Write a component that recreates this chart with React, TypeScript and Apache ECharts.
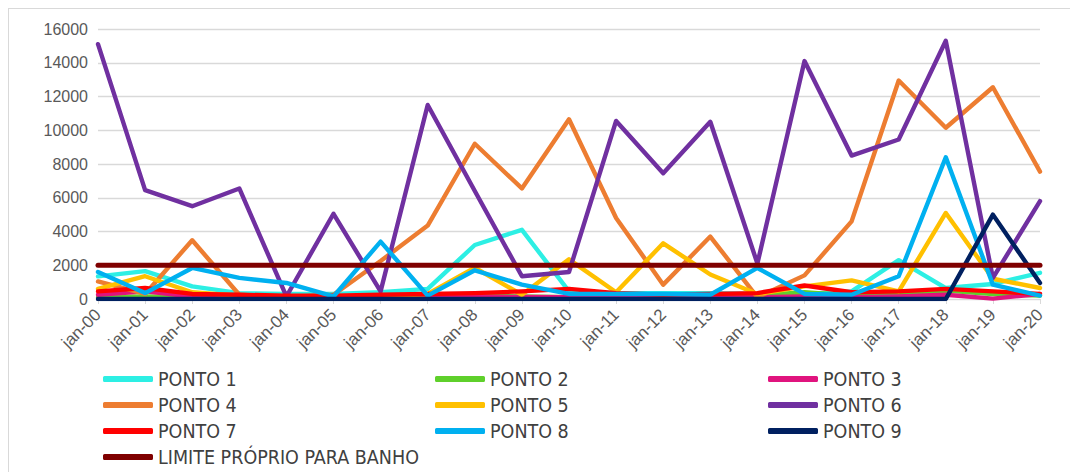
import React, { useEffect, useRef } from "react";
import * as echarts from "echarts";

const categories = [
  "jan-00", "jan-01", "jan-02", "jan-03", "jan-04", "jan-05", "jan-06", "jan-07",
  "jan-08", "jan-09", "jan-10", "jan-11", "jan-12", "jan-13", "jan-14", "jan-15",
  "jan-16", "jan-17", "jan-18", "jan-19", "jan-20",
];

const ponto1 = [1340, 1650, 750, 350, 300, 300, 400, 600, 3200, 4100, 450, 350, 350, 350, 300, 300, 450, 2300, 650, 890, 1550];
const ponto2 = [100, 150, 100, 50, 50, 100, 150, 100, 200, 150, 100, 100, 150, 100, 200, 400, 200, 250, 500, 300, 200];
const ponto3 = [250, 450, 150, 100, 50, 80, 100, 100, 150, 120, 100, 80, 60, 80, 100, 150, 100, 150, 250, 20, 300];
const ponto4 = [1040, 300, 3480, 250, 100, 250, 2250, 4350, 9200, 6550, 10650, 4800, 850, 3700, 100, 1400, 4600, 12950, 10150, 12550, 7550];
const ponto5 = [600, 1350, 400, 200, 100, 100, 150, 300, 1850, 250, 2350, 400, 3300, 1450, 300, 750, 1100, 450, 5100, 1200, 650];
const ponto6 = [15100, 6450, 5500, 6550, 150, 5050, 450, 11500, 6400, 1350, 1600, 10550, 7450, 10500, 2100, 14100, 8500, 9450, 15300, 1250, 5800];
const ponto7 = [450, 650, 300, 250, 200, 200, 250, 300, 350, 450, 600, 350, 250, 300, 350, 800, 400, 450, 600, 450, 300];
const ponto8 = [1600, 350, 1840, 1250, 950, 150, 3400, 200, 1700, 850, 300, 300, 300, 250, 1840, 300, 250, 1350, 8400, 850, 200];
const ponto9 = [0, 0, 0, 0, 0, 0, 0, 0, 0, 0, 0, 0, 0, 0, 0, 0, 0, 0, 0, 5000, 950];
const limite = [2000, 2000, 2000, 2000, 2000, 2000, 2000, 2000, 2000, 2000, 2000, 2000, 2000, 2000, 2000, 2000, 2000, 2000, 2000, 2000, 2000];

const seriesNames = [
  "PONTO 1", "PONTO 2", "PONTO 3", "PONTO 4", "PONTO 5", "PONTO 6",
  "PONTO 7", "PONTO 8", "PONTO 9", "LIMITE PRÓPRIO PARA BANHO",
];
const seriesData = [ponto1, ponto2, ponto3, ponto4, ponto5, ponto6, ponto7, ponto8, ponto9, limite];
const seriesColors = [
  "#2DEFE4", "#5FD02B", "#E0147E", "#ED7D31", "#FFC000", "#7030A0",
  "#FF0000", "#00B0F0", "#002060", "#7F0000",
];

const legendCols = [
  ["PONTO 1", "PONTO 4", "PONTO 7", "LIMITE PRÓPRIO PARA BANHO"],
  ["PONTO 2", "PONTO 5", "PONTO 8"],
  ["PONTO 3", "PONTO 6", "PONTO 9"],
];
const legendLefts = [94, 426, 759];

const yTicks = { min: 0, max: 16000, interval: 2000 };

const FONT = "'Liberation Sans Narrow', 'Arial Narrow', 'DejaVu Sans Condensed', 'Liberation Sans', sans-serif";

export default function App() {
  const ref = useRef<HTMLDivElement>(null);

  useEffect(() => {
    if (!ref.current) return;
    const chart = echarts.init(ref.current, undefined, { renderer: "svg" });
    const option: any = {
      animation: false,
      backgroundColor: "#ffffff",
      grid: { left: 89, right: 38, top: 20, bottom: 223, containLabel: false },
      xAxis: {
        type: "category",
        data: categories,
        boundaryGap: false,
        axisLine: { show: true, lineStyle: { color: "#d9d9d9", width: 1 } },
        axisTick: { show: true, length: 5, lineStyle: { color: "#d9d9d9" } },
        axisLabel: {
          rotate: 45,
          color: "#595959",
          fontSize: 17,
          fontFamily: "'Liberation Sans', Arial, sans-serif",
          margin: 13,
          interval: 0,
        },
        splitLine: { show: false },
      },
      yAxis: {
        type: "value",
        min: yTicks.min,
        max: yTicks.max,
        interval: yTicks.interval,
        axisLine: { show: false },
        axisTick: { show: false },
        axisLabel: {
          color: "#595959",
          fontSize: 16,
          fontFamily: "'Liberation Sans', Arial, sans-serif",
          margin: 10,
          formatter: (v: number) => String(v),
        },
        splitLine: { show: true, lineStyle: { color: "#d9d9d9", width: 1.3 } },
      },
      legend: legendCols.map((col, i) => ({
        orient: "vertical",
        left: legendLefts[i],
        top: 360,
        height: 150,
        padding: 0,
        data: col,
        icon: "roundRect",
        itemWidth: 50,
        itemHeight: 6,
        itemGap: 6,
        itemTextGap: 4,
        textStyle: {
          color: "#404040",
          fontSize: 19.5,
          lineHeight: 17,
          fontFamily: FONT,
        },
        selectedMode: false,
      })),
      series: seriesNames.map((name, i) => ({
        name,
        type: "line",
        data: seriesData[i],
        showSymbol: false,
        symbol: "none",
        color: seriesColors[i],
        lineStyle: { color: seriesColors[i], width: i === 9 ? 5 : 4.4, cap: "round", join: "round" },
        itemStyle: { color: seriesColors[i] },
        emphasis: { disabled: true },
      })),
    };
    chart.setOption(option);
    return () => chart.dispose();
  }, []);

  return (
    <div
      style={{
        width: 1070,
        height: 464,
        borderTop: "1px solid #d9d9d9",
        borderLeft: "1px solid #d9d9d9",
        boxSizing: "border-box",
        background: "#fff",
        overflow: "hidden",
      }}
    >
      <div ref={ref} style={{ width: 1069, height: 513 }} />
    </div>
  );
}
